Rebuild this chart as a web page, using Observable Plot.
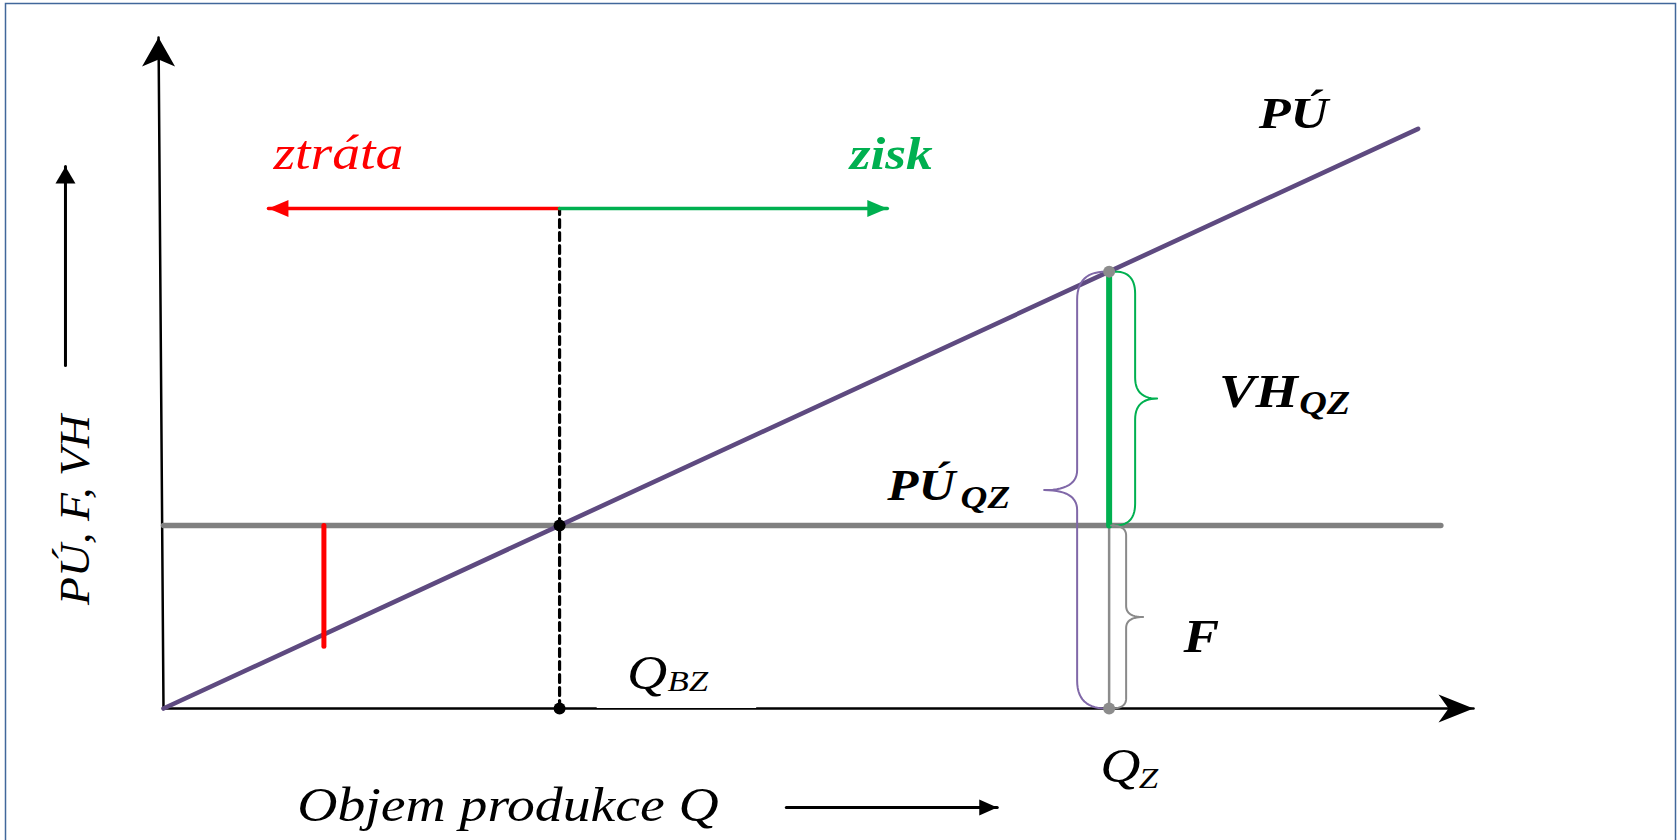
<!DOCTYPE html>
<html><head><meta charset="utf-8">
<script src="https://cdn.jsdelivr.net/npm/d3@7"></script>
<script src="https://cdn.jsdelivr.net/npm/@observablehq/plot@0.6"></script>
<style>html,body{margin:0;padding:0;background:#fff}svg{display:block}</style>
</head><body><div id="chart"></div>
<script>
// ---------- data (conceptual units: Q = volume, V = money) ----------
const fixedCost = [1000];                 // F
const qBreakEven = [400];                 // Q_BZ
const qZ = [955];                         // Q_Z
const puAtQz = [2387.5];                  // PÚ at Q_Z
const puLineQ = [0, 1267];                // PÚ line
const puLineV = [0, 3168];
const fLineQ = [0, 1290];                 // F line extent
const xAxisQ = [0, 1323];
const yAxisQ = [0, -5];
const yAxisV = [0, 3667];
const lossQ = [162];                      // red loss segment
const lossV = [1000, 340];
const regionArrowV = [2732];              // ztráta / zisk arrows level
const lossArrowQ = [400, 106];
const profitArrowQ = [400, 731];
const yHintQ = [-99];  const yHintV = [1874, 2962];
const xHintQ = [629, 842]; const xHintV = [-541];
const gapQ = [438, 598];

const labelTexts = ["ztráta", "zisk", "PÚ", "VH", "QZ", "PÚ", "QZ", "F", "Q", "Z", "Q", "BZ", "Objem produkce Q"];
const labelQ =     [111, 693, 1106, 1066, 1147, 731, 805, 1030, 946, 985, 468, 509, 135];
const labelV =     [2951, 2951, 3170, 1650, 1612, 1142, 1093, 311, -404, -432, 104, 98, -617];
const yTitle = ["PÚ, F, VH"];
const yTitleQ = [-75], yTitleV = [1085];

// ---------- scales ----------
const X_DOMAIN = [0, 1325], X_RANGE = [163, 1475];
const Y_DOMAIN = [0, 3667], Y_RANGE = [708, 37];
const KX = (X_RANGE[1] - X_RANGE[0]) / (X_DOMAIN[1] - X_DOMAIN[0]);
const KY = (Y_RANGE[0] - Y_RANGE[1]) / (Y_DOMAIN[1] - Y_DOMAIN[0]);

const pts = (qs, vs) => {
  const n = Math.max(qs.length, vs.length);
  return d3.range(n).map(i => ({q: qs[Math.min(i, qs.length - 1)], v: vs[Math.min(i, vs.length - 1)]}));
};

// curly brace shape (offsets in px, converted to data units)
function brace(q, vTop, vBot, s) {
  const yB = (vTop - vBot) * KY, m = yB / 2;
  const e = s.side * s.end, b = s.side * s.body, t = s.side * s.tip;
  const out = [];
  const quad = (p0, c, p1) => {
    for (let i = 0; i <= 14; i++) {
      const u = i / 14;
      out.push([(1-u)*(1-u)*p0[0] + 2*(1-u)*u*c[0] + u*u*p1[0],
                (1-u)*(1-u)*p0[1] + 2*(1-u)*u*c[1] + u*u*p1[1]]);
    }
  };
  quad([e, 0], [b, 0], [b, s.endR]);
  quad([b, m - s.tipR], [b, m], [t, m]);
  quad([t, m], [b, m], [b, m + s.tipR]);
  quad([b, yB - s.endR], [b, yB], [e, yB]);
  return out.map(([dx, dy]) => ({q: q + dx / KX, v: vTop - dy / KY}));
}

// arrowhead symbol (tip at the point)
function head(len, wid, notch, angle) {
  const a = angle * Math.PI / 180, c = Math.cos(a), s = Math.sin(a);
  const P = [[0, 0], [-wid / 2, len], [0, len - notch], [wid / 2, len]].map(([x, y]) => [x * c - y * s, x * s + y * c]);
  return {draw(ctx) { ctx.moveTo(...P[0]); for (let i = 1; i < P.length; i++) ctx.lineTo(...P[i]); ctx.closePath(); }};
}

const SERIF = "'Liberation Serif','Times New Roman',serif";
const purple = "#5e4a80", gray = "#808080", green = "#00b050", red = "#ff0000";

const lbl = (i, o) => Plot.text([{q: labelQ[i], v: labelV[i], t: labelTexts[i]}],
  Object.assign({x: "q", y: "v", text: "t", textAnchor: "start", lineAnchor: "bottom", fontFamily: SERIF, fontStyle: "italic", fill: "black"}, o));

const chart = Plot.plot({
  width: 1678, height: 840, margin: 0,
  x: {type: "linear", domain: X_DOMAIN, range: X_RANGE, axis: null},
  y: {type: "linear", domain: Y_DOMAIN, range: Y_RANGE, axis: null},
  style: {background: "white"},
  marks: [
    Plot.frame({stroke: "#41679b", strokeWidth: 1.5, insetLeft: 5, insetTop: 3, insetRight: 3, insetBottom: -10}),
    // axes
    Plot.line(pts(yAxisQ, yAxisV), {x: "q", y: "v", stroke: "black", strokeWidth: 2.5}),
    Plot.line(pts(xAxisQ, [0]), {x: "q", y: "v", stroke: "black", strokeWidth: 2.5}),
    Plot.line(pts(gapQ, [0]), {x: "q", y: "v", stroke: "white", strokeWidth: 1.2, dy: -1.1}),
    // fixed cost and contribution lines
    Plot.line(pts(fLineQ, fixedCost), {x: "q", y: "v", stroke: gray, strokeWidth: 5.5}),
    Plot.line(pts(puLineQ, puLineV), {x: "q", y: "v", stroke: purple, strokeWidth: 4.6}),
    Plot.line(pts(lossQ, lossV), {x: "q", y: "v", stroke: red, strokeWidth: 5}),
    // break-even dashed line
    Plot.line(pts(qBreakEven, [0, regionArrowV[0]]), {x: "q", y: "v", stroke: "black", strokeWidth: 3.2, strokeDasharray: "8,5"}),
    Plot.line(pts(lossArrowQ, regionArrowV), {x: "q", y: "v", stroke: red, strokeWidth: 3.5}),
    Plot.line(pts(profitArrowQ, regionArrowV), {x: "q", y: "v", stroke: green, strokeWidth: 3.5}),
    // Q_Z verticals
    Plot.line(pts(qZ, [0, fixedCost[0]]), {x: "q", y: "v", stroke: "#8c8c8c", strokeWidth: 2.5}),
    Plot.line(pts(qZ, [fixedCost[0], puAtQz[0]]), {x: "q", y: "v", stroke: green, strokeWidth: 6}),
    // braces
    Plot.line(brace(qZ[0], puAtQz[0], fixedCost[0], {side: 1, end: 6, body: 26, tip: 48, endR: 22, tipR: 21}), {x: "q", y: "v", stroke: green, strokeWidth: 2}),
    Plot.line(brace(qZ[0], fixedCost[0], 0, {side: 1, end: 2, body: 17, tip: 34, endR: 10, tipR: 11}), {x: "q", y: "v", stroke: "#8a8a8a", strokeWidth: 2}),
    Plot.line(brace(qZ[0], puAtQz[0], 0, {side: -1, end: 3, body: 32, tip: 65, endR: 28, tipR: 20}), {x: "q", y: "v", stroke: "#8068a8", strokeWidth: 2}),
    // points
    Plot.dot(pts(qBreakEven, [0, fixedCost[0]]), {x: "q", y: "v", r: 6, fill: "black"}),
    Plot.dot(pts(qZ, [0, puAtQz[0]]), {x: "q", y: "v", r: 6, fill: "#8c8c8c"}),
    // arrowheads
    Plot.dot(pts([yAxisQ[1]], [yAxisV[1]]), {x: "q", y: "v", symbol: head(29, 33, 7, 0), fill: "black", stroke: "none"}),
    Plot.dot(pts([xAxisQ[1]], [0]), {x: "q", y: "v", symbol: head(35, 28, 10, 90), fill: "black", stroke: "none"}),
    Plot.dot(pts([lossArrowQ[1]], regionArrowV), {x: "q", y: "v", symbol: head(20, 17, 0, -90), fill: red, stroke: "none"}),
    Plot.dot(pts([profitArrowQ[1]], regionArrowV), {x: "q", y: "v", symbol: head(20, 17, 0, 90), fill: green, stroke: "none"}),
    // axis hint arrows
    Plot.line(pts(yHintQ, yHintV), {x: "q", y: "v", stroke: "black", strokeWidth: 3}),
    Plot.dot(pts(yHintQ, [yHintV[1]]), {x: "q", y: "v", symbol: head(17, 20, 0, 0), fill: "black", stroke: "none"}),
    Plot.line(pts(xHintQ, xHintV), {x: "q", y: "v", stroke: "black", strokeWidth: 3}),
    Plot.dot(pts([xHintQ[1]], xHintV), {x: "q", y: "v", symbol: head(18, 16, 0, 90), fill: "black", stroke: "none"}),
    // labels
    lbl(0, {fontSize: 48, fill: red}),
    lbl(1, {fontSize: 46, fontWeight: "bold", fill: green}),
    lbl(2, {fontSize: 45, fontWeight: "bold"}),
    lbl(3, {fontSize: 47, fontWeight: "bold"}),
    lbl(4, {fontSize: 33, fontWeight: "bold"}),
    lbl(5, {fontSize: 44, fontWeight: "bold"}),
    lbl(6, {fontSize: 32, fontWeight: "bold"}),
    lbl(7, {fontSize: 46, fontWeight: "bold"}),
    lbl(8, {fontSize: 48}),
    lbl(9, {fontSize: 30}),
    lbl(10, {fontSize: 48}),
    lbl(11, {fontSize: 30}),
    lbl(12, {fontSize: 48}),
    Plot.text(pts(yTitleQ, yTitleV).map((d, i) => ({...d, t: yTitle[i]})),
      {x: "q", y: "v", text: "t", rotate: -90, textAnchor: "middle", lineAnchor: "bottom", fontFamily: SERIF, fontStyle: "italic", fontSize: 43, fill: "black"})
  ]
});
document.getElementById("chart").appendChild(chart);

// the reference lettering is set wide: stretch labels along their reading direction
chart.querySelectorAll("text").forEach(t => {
  if (!t.textContent) return;
  const rotated = (t.getAttribute("transform") || "").includes("rotate");
  const w = t.getComputedTextLength();
  t.setAttribute("textLength", (w * (rotated ? 1.065 : 1.16)).toFixed(1));
  t.setAttribute("lengthAdjust", "spacingAndGlyphs");
});
</script>
</body></html>
